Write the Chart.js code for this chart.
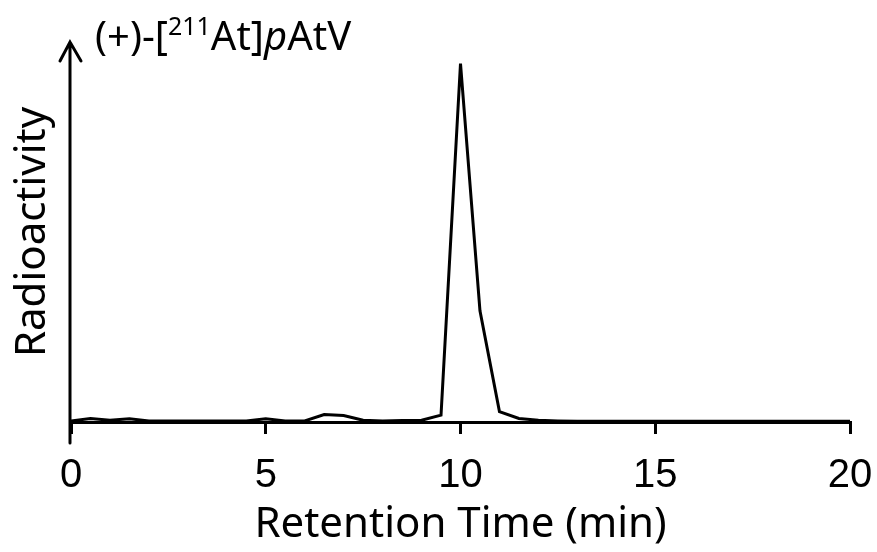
<!DOCTYPE html>
<html>
<head>
<meta charset="utf-8">
<script src="https://cdn.jsdelivr.net/npm/chart.js@4.4.0/dist/chart.umd.min.js"></script>
<style>
  html, body { margin: 0; padding: 0; background: #fff; }
  #wrap { position: relative; width: 877px; height: 552px; }
  #title {
    position: absolute; left: 95px; top: 13px;
    font-family: "Noto Sans", sans-serif; font-size: 40px; color: #000;
    line-height: 1; white-space: nowrap;
  }
  #title sup { font-size: 25px; vertical-align: 15px; }
</style>
</head>
<body>
<div id="wrap">
  <canvas id="chart1" width="877" height="552"></canvas>
  <div id="title">(+)-[<sup>211</sup>At]<i>p</i>AtV</div>
</div>
<script>
const times = [0, 0.5, 1, 1.5, 2, 2.5, 3, 3.5, 4, 4.5, 5, 5.5, 6, 6.5, 7, 7.5, 8, 8.5, 9, 9.5,
               10, 10.5, 11, 11.5, 12, 12.5, 13, 13.5, 14, 14.5, 15, 15.5, 16, 16.5, 17, 17.5,
               18, 18.5, 19, 19.5, 20];
const activity = [0.3, 1.0, 0.5, 0.9, 0.3, 0.3, 0.3, 0.3, 0.3, 0.3, 0.9, 0.3, 0.3, 2.1, 1.8, 0.5,
                  0.3, 0.4, 0.5, 1.9, 100, 31, 2.9, 1.0, 0.5, 0.3, 0.2, 0.2, 0.2, 0.2, 0.2, 0.2,
                  0.2, 0.2, 0.2, 0.2, 0.2, 0.2, 0.2, 0.2, 0.2];
const xTicks = [0, 5, 10, 15, 20];

const points = times.map((t, i) => ({ x: t, y: activity[i] }));

// arrow on the y axis and its little tail below the x axis
const axisArrow = {
    id: "axisArrow",
    afterDraw(chart) {
        const ctx = chart.ctx;
        const a = chart.chartArea;
        const x = a.left - 1;
        ctx.save();
        ctx.strokeStyle = "#000";
        ctx.lineWidth = 3;
        ctx.lineCap = "round";
        ctx.beginPath();
        ctx.moveTo(x, a.top);
        ctx.lineTo(x, a.bottom + 21);
        ctx.moveTo(x - 10, a.top + 19);
        ctx.lineTo(x, a.top);
        ctx.lineTo(x + 11, a.top + 19);
        ctx.stroke();
        ctx.restore();
    }
};

const chart1 = document.getElementById("chart1");

const lineChart = new Chart(chart1, {
    type: "line",
    data: {
        datasets: [{
            data: points,
            borderColor: "#000",
            borderWidth: 3,
            pointRadius: 0,
            tension: 0,
            fill: false
        }]
    },
    plugins: [axisArrow],
    options: {
        responsive: false,
        animation: false,
        layout: { padding: { top: 42, right: 27, left: 0, bottom: 0 } },
        plugins: { legend: { display: false }, tooltip: { enabled: false } },
        scales: {
            x: {
                type: "linear",
                min: 0,
                max: 20,
                afterBuildTicks(scale) { scale.ticks = xTicks.map(v => ({ value: v })); },
                afterFit(scale) {
                    scale.height = 130;
                    scale.paddingLeft = 0;
                    scale.paddingRight = 0;
                },
                border: { display: true, color: "#000", width: 3 },
                grid: { drawOnChartArea: false, color: "#000", lineWidth: 3, tickLength: 12 },
                ticks: {
                    color: "#000",
                    padding: 18,
                    font: { family: "'Liberation Sans', Arial, sans-serif", size: 40 }
                },
                title: {
                    display: true,
                    text: "Retention Time (min)",
                    color: "#000",
                    padding: { top: 0, bottom: 2 },
                    font: { family: "'Noto Sans', sans-serif", size: 42 }
                }
            },
            y: {
                min: 0,
                max: 106,
                afterFit(scale) { scale.width = 71; },
                border: { display: false },
                grid: { display: false },
                ticks: { display: false },
                title: {
                    display: true,
                    text: "Radioactivity",
                    color: "#000",
                    padding: { top: 8, bottom: 0 },
                    font: { family: "'Noto Sans', sans-serif", size: 42 }
                }
            }
        }
    }
});
</script>
</body>
</html>
